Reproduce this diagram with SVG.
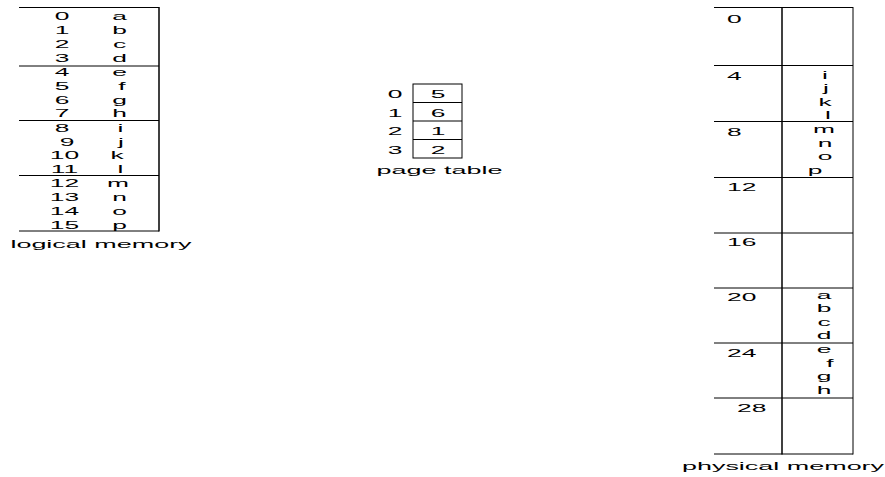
<svg xmlns="http://www.w3.org/2000/svg" width="885" height="477" viewBox="0 0 885 477">
<style>
text{font-family:"Liberation Sans",Arial,sans-serif;font-size:11px;fill:#000}
.m{text-anchor:middle}
line{stroke:#000;stroke-width:1}
.v{stroke-width:1.5}
</style>
<rect width="885" height="477" fill="#fff"/>
<g id="connectors"/>
<g id="logical-memory">
<line x1="19" y1="7.5" x2="159" y2="7.5"/>
<line x1="19" y1="66" x2="159" y2="66"/>
<line x1="19" y1="120.5" x2="159" y2="120.5"/>
<line x1="19" y1="175.5" x2="159" y2="175.5"/>
<line x1="19" y1="231" x2="159" y2="231"/>
<line class="v" x1="159" y1="7" x2="159" y2="231.5"/>
<text class="m" transform="matrix(2.4 0 0 1 62 20)">0</text>
<text class="m" transform="matrix(2.4 0 0 1 62 34)">1</text>
<text class="m" transform="matrix(2.4 0 0 1 62 48)">2</text>
<text class="m" transform="matrix(2.4 0 0 1 62 62)">3</text>
<text class="m" transform="matrix(2.4 0 0 1 62 75.5)">4</text>
<text class="m" transform="matrix(2.4 0 0 1 62 89.5)">5</text>
<text class="m" transform="matrix(2.4 0 0 1 62 103.5)">6</text>
<text class="m" transform="matrix(2.4 0 0 1 62 117)">7</text>
<text class="m" transform="matrix(2.4 0 0 1 62 131.5)">8</text>
<text class="m" transform="matrix(2.4 0 0 1 67 145.5)">9</text>
<text class="m" transform="matrix(2.4 0 0 1 64.5 159)">10</text>
<text class="m" transform="matrix(2.4 0 0 1 64.5 173)">11</text>
<text class="m" transform="matrix(2.4 0 0 1 64.5 187)">12</text>
<text class="m" transform="matrix(2.4 0 0 1 64.5 201)">13</text>
<text class="m" transform="matrix(2.4 0 0 1 64.5 215)">14</text>
<text class="m" transform="matrix(2.4 0 0 1 64.5 229)">15</text>
<text class="m" transform="matrix(2.4 0 0 1 119.5 20)">a</text>
<text class="m" transform="matrix(2.4 0 0 1 119.5 34)">b</text>
<text class="m" transform="matrix(2.4 0 0 1 119.5 48)">c</text>
<text class="m" transform="matrix(2.4 0 0 1 119.5 62)">d</text>
<text class="m" transform="matrix(2.4 0 0 1 119.5 75.5)">e</text>
<text class="m" transform="matrix(2.4 0 0 1 122 89.5)">f</text>
<text class="m" transform="matrix(2.4 0 0 1 119.5 103.5)">g</text>
<text class="m" transform="matrix(2.4 0 0 1 119.5 117)">h</text>
<text class="m" transform="matrix(2.4 0 0 1 120.5 131.5)">i</text>
<text class="m" transform="matrix(2.4 0 0 1 121 145.5)">j</text>
<text class="m" transform="matrix(2.4 0 0 1 117 159)">k</text>
<text class="m" transform="matrix(2.4 0 0 1 120.5 173)">l</text>
<text class="m" transform="matrix(2.4 0 0 1 118 187)">m</text>
<text class="m" transform="matrix(2.4 0 0 1 119.5 201)">n</text>
<text class="m" transform="matrix(2.4 0 0 1 119.5 215)">o</text>
<text class="m" transform="matrix(2.4 0 0 1 119.5 229)">p</text>
<text class="m" transform="matrix(2.45 0 0 1 101 248)">logical memory</text>
</g>
<g id="page-table">
<rect x="413" y="84" width="49" height="74" fill="none" stroke="#000" stroke-width="1"/>
<line x1="413" y1="102.5" x2="462" y2="102.5"/>
<line x1="413" y1="121" x2="462" y2="121"/>
<line x1="413" y1="139.5" x2="462" y2="139.5"/>
<text class="m" transform="matrix(2.4 0 0 1 395 98)">0</text>
<text class="m" transform="matrix(2.4 0 0 1 395 116.5)">1</text>
<text class="m" transform="matrix(2.4 0 0 1 395 135)">2</text>
<text class="m" transform="matrix(2.4 0 0 1 395 153.5)">3</text>
<text class="m" transform="matrix(2.4 0 0 1 438 98)">5</text>
<text class="m" transform="matrix(2.4 0 0 1 438 116.5)">6</text>
<text class="m" transform="matrix(2.4 0 0 1 438 135)">1</text>
<text class="m" transform="matrix(2.4 0 0 1 438 153.5)">2</text>
<text class="m" transform="matrix(2.45 0 0 1 439.5 174)">page table</text>
</g>
<g id="physical-memory">
<line x1="714" y1="7.5" x2="853" y2="7.5"/>
<line x1="714" y1="65.5" x2="853" y2="65.5"/>
<line x1="714" y1="121.5" x2="853" y2="121.5"/>
<line x1="714" y1="177.5" x2="853" y2="177.5"/>
<line x1="714" y1="233" x2="853" y2="233"/>
<line x1="714" y1="288" x2="853" y2="288"/>
<line x1="714" y1="343" x2="853" y2="343"/>
<line x1="714" y1="398" x2="853" y2="398"/>
<line x1="714" y1="454" x2="853" y2="454"/>
<line class="v" x1="782" y1="7" x2="782" y2="454.5"/>
<line x1="853" y1="7" x2="853" y2="454.5"/>
<text transform="matrix(2.4 0 0 1 727 23)">0</text>
<text transform="matrix(2.4 0 0 1 727 80)">4</text>
<text transform="matrix(2.4 0 0 1 727 135.5)">8</text>
<text transform="matrix(2.4 0 0 1 727 190.5)">12</text>
<text transform="matrix(2.4 0 0 1 727 245.5)">16</text>
<text transform="matrix(2.4 0 0 1 727 300.5)">20</text>
<text transform="matrix(2.4 0 0 1 727 356.5)">24</text>
<text transform="matrix(2.4 0 0 1 737 411.5)">28</text>
<text class="m" transform="matrix(2.4 0 0 1 825 78.5)">i</text>
<text class="m" transform="matrix(2.4 0 0 1 826 92)">j</text>
<text class="m" transform="matrix(2.4 0 0 1 825 105.5)">k</text>
<text class="m" transform="matrix(2.4 0 0 1 828 119)">l</text>
<text class="m" transform="matrix(2.4 0 0 1 824 133)">m</text>
<text class="m" transform="matrix(2.4 0 0 1 825 146.5)">n</text>
<text class="m" transform="matrix(2.4 0 0 1 825 160)">o</text>
<text class="m" transform="matrix(2.4 0 0 1 815 174)">p</text>
<text class="m" transform="matrix(2.4 0 0 1 824 298.5)">a</text>
<text class="m" transform="matrix(2.4 0 0 1 824 312)">b</text>
<text class="m" transform="matrix(2.4 0 0 1 824 325.5)">c</text>
<text class="m" transform="matrix(2.4 0 0 1 824 339)">d</text>
<text class="m" transform="matrix(2.4 0 0 1 824 353)">e</text>
<text class="m" transform="matrix(2.4 0 0 1 830 366.5)">f</text>
<text class="m" transform="matrix(2.4 0 0 1 824 380)">g</text>
<text class="m" transform="matrix(2.4 0 0 1 824 394)">h</text>
<text class="m" transform="matrix(2.45 0 0 1 783 470)">physical memory</text>
</g>
</svg>
